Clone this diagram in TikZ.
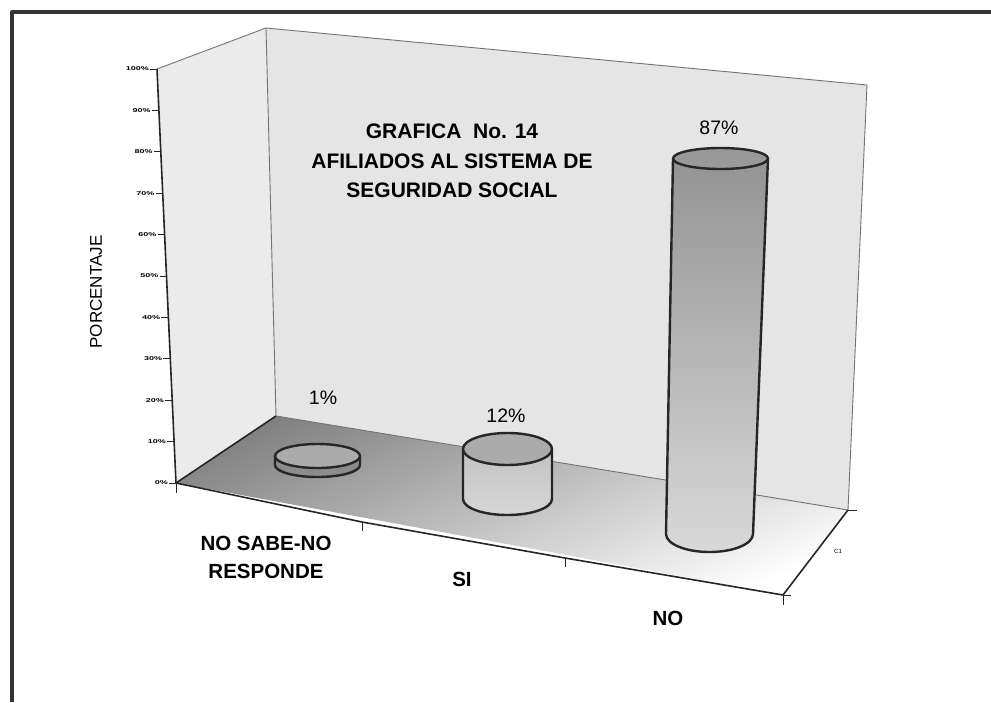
\documentclass[tikz,border=0pt]{standalone}
\usepackage{fontspec}
\setmainfont{Liberation Sans}
\begin{document}
\begin{tikzpicture}[x=1pt,y=-1pt,line join=round,
  frameline/.style={draw=black!80,line width=4pt},
  axisline/.style={draw=black!85,line width=1.6pt},
  wallline/.style={draw=black!55,line width=0.9pt},
  tickline/.style={draw=black!85,line width=1pt},
  cyl/.style={draw=black!85,line width=2.4pt},
  ticklbl/.style={anchor=east,inner sep=0pt,font=\fontsize{9}{9}\selectfont\bfseries},
  pct/.style={inner sep=0pt,font=\fontsize{19.5}{19.5}\selectfont},
  catlbl/.style={inner sep=0pt,font=\fontsize{20.5}{28}\selectfont\bfseries,align=center},
  titlelbl/.style={inner sep=0pt,font=\fontsize{21}{29.5}\selectfont\bfseries,align=center},
]
\useasboundingbox (0,0) rectangle (991,702);
\fill[white] (0,0) rectangle (991,702);

% key points
\coordinate (lt) at (157,69);    % left wall top front (100%)
\coordinate (bt) at (266,28);    % back wall top left
\coordinate (rt) at (867,85);    % back wall top right
\coordinate (bl) at (276,416);   % floor back left
\coordinate (br) at (848,510);   % floor back right
\coordinate (fl) at (176,483);   % floor front left (0%)
\coordinate (fr) at (783,595);   % floor front right
\coordinate (f1) at (362,522);
\coordinate (f2) at (565,558);

% walls
\fill[black!8] (lt) -- (bt) -- (bl) -- (fl) -- cycle;
\fill[black!10] (bt) -- (rt) -- (br) -- (bl) -- cycle;

% floor
\begin{scope}
  \clip (fl) -- (bl) -- (br) -- (fr) -- cycle;
  \shade[top color=black!50, middle color=black!22, bottom color=white, shading angle=22]
    (170,405) rectangle (860,600);
\end{scope}

% wall and floor edges
\draw[wallline] (lt) -- (bt) -- (rt) -- (br);
\draw[wallline] (bt) -- (bl) -- (br);
\draw[axisline] (fl) -- (bl);
\draw[axisline] (fl) -- (f1) -- (f2) -- (fr) -- (br);
\draw[axisline] (lt) -- (fl);

% front ticks
\draw[tickline] (fl) -- ++(0,10);
\draw[tickline] (f1) -- ++(0,9);
\draw[tickline] (f2) -- ++(0,9);
\draw[tickline] (fr) -- ++(0,10);
\draw[tickline] (fr) -- ++(8,0);
\draw[tickline] (br) -- ++(9,0);

% y ticks and labels
\foreach \k in {0,...,10} {
  \pgfmathtruncatemacro\p{10*\k}
  \coordinate (t\k) at ({176-1.9*\k},{483-41.4*\k});
  \draw[tickline] (t\k) -- ++(-7,0);
  \path (t\k) ++(-8,0) node[ticklbl] (tl\k) {\scalebox{1}[0.62]{\p\%}};
}

% axis title
\node[rotate=90,inner sep=0pt,font=\fontsize{17}{17}\selectfont] (ylab) at (96,292) {PORCENTAJE};

% chart title
\node[titlelbl] (title) at (452,161) {GRAFICA\ \ No. 14\\AFILIADOS AL SISTEMA DE\\SEGURIDAD SOCIAL};

% cylinder NO SABE (1%)
\path[cyl,fill=black!45] (275,456) -- (275,465) arc[start angle=180,end angle=0,x radius=42.5,y radius=12] -- (360,456) -- cycle;
\path[cyl,fill=black!33] (317.5,456) ellipse[x radius=42.5,y radius=12];

% cylinder SI (12%)
\shade[top color=black!24, middle color=black!34, bottom color=black!16]
  (463,449) -- (463,499) arc[start angle=180,end angle=0,x radius=44.5,y radius=16] -- (552,449) -- cycle;
\draw[cyl] (463,449) -- (463,499) arc[start angle=180,end angle=0,x radius=44.5,y radius=16] -- (552,449);
\path[cyl,fill=black!33] (507.5,449) ellipse[x radius=44.5,y radius=16];

% cylinder NO (87%)
\shade[top color=black!42, middle color=black!38, bottom color=black!15]
  (673,158.5) -- (666,534) arc[start angle=180,end angle=0,x radius=43.5,y radius=18] -- (768,158.5) -- cycle;
\draw[cyl] (673,158.5) -- (666,534) arc[start angle=180,end angle=0,x radius=43.5,y radius=18] -- (768,158.5);
\path[cyl,fill=black!40] (720.5,158.5) ellipse[x radius=47.5,y radius=10.5];

% value labels
\node[pct] (v1) at (323,398) {1\%};
\node[pct] (v2) at (506,416) {12\%};
\node[pct] (v3) at (719,128) {87\%};

% category labels
\node[catlbl] (c1) at (266,557) {NO SABE-NO\\RESPONDE};
\node[catlbl] (c2) at (462,579) {SI};
\node[catlbl] (c3) at (668,618) {NO};
\node[inner sep=0pt,font=\fontsize{6}{6}\selectfont] (ser) at (838,551) {C1};

% outer frame
\draw[frameline] (12,702) -- (12,12) -- (991,12);
\end{tikzpicture}
\end{document}
